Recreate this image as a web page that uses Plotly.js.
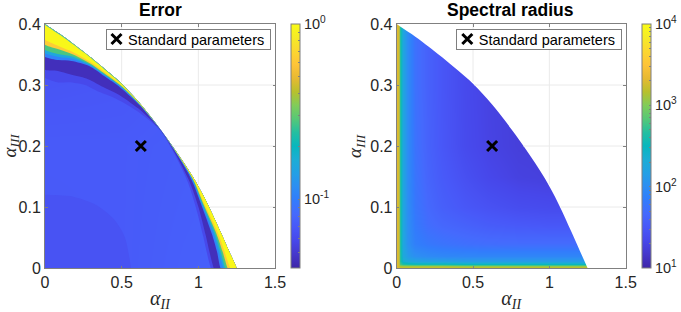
<!DOCTYPE html>
<html><head><meta charset="utf-8">
<script src="https://cdn.plot.ly/plotly-3.0.1.min.js"></script>
<style>html,body{margin:0;padding:0;background:#fff}#c{width:681px;height:312px}</style>
</head><body><div id="c"></div>
<script>
// Stability boundary (first and last points run just off the axes)
const edgeX = [-.1, 0, .1, .1875, .3, .4, .5, .625, .75, .85, .97, 1.06, 1.145, 1.2, 1.25, 1.3];
const edgeY = [.42, .4, .383, .367, .345, .324, .302, .268, .228, .193, .147, .105, .059, .028, 0, -.03];

// Error panel: log10(error) of each band
const bandLog = [-1.23, -1.35, -0.98, -0.81, -0.56, -0.2, -0.02, -0.8];
// Inner edge of each band as a fraction along the ray to the boundary, one value per boundary point
const bandFade   = [.78, .78, .795, .83, .87, .89, .92, .96, .995, .985, .96, .93, .90, .88, .865, .865];
const bandDark   = [.8125, .8125, .843, .865, .90, .92, .945, .975, .997, .99, .97, .945, .915, .895, .88, .88];
const bandBlue   = [.865, .865, .89, .925, .96, .97, .98, .992, .999, .995, .985, .965, .95, .935, .915, .915];
const bandTeal   = [.88, .88, .903, .935, .964, .975, .985, .995, .9993, .997, .99, .97, .96, .945, .93, .93];
const bandGreen  = [.893, .893, .915, .945, .968, .978, .987, .996, .9995, .9975, .992, .974, .968, .955, .94, .94];
const bandOrange = [.915, .915, .935, .955, .973, .982, .99, .997, .9997, .998, .994, .978, .975, .965, .952, .952];
const bandYellow = [.935, .935, .948, .965, .98, .988, .993, .998, .9998, .999, .996, .984, .984, .975, .966, .966];
const bandRim    = [.997, .997, .997, .997, .998, .998, .999, .9995, 1, 1, 1, 1, 1, 1, 1, 1];

// Slightly darker low-error patch near the origin
const patchX = [-.05, 0, .185, .337, .446, .52, .56, .57, -.05];
const patchY = [.12, .12, .117, .103, .081, .051, .002, -.02, -.02];
const patchLog = -1.185;

// Error panel background field
const errX = [0, .5, .9, 1.25];
const errY = [0, .2, .33, .4];
const errZ = [
  [-1.16, -1.15, -1.13, -1.12],
  [-1.15, -1.15, -1.14, -1.13],
  [-1.18, -1.17, -1.15, -1.14],
  [-1.18, -1.17, -1.15, -1.14]
];

// Spectral radius panel: log10(value) on a graded grid
const radX = [0, .01, .02, .04, .07, .12, .2, .3, .45, .6, .8, 1, 1.25];
const radY = [0, .003, .006, .012, .02, .04, .07, .1, .15, .2, .3, .4];
const radZ = [
  [3.3, 3.3, 3.3, 3.3, 3.3, 3.3, 3.3, 3.3, 3.3, 3.3, 3.3, 3.3, 3.3],
  [3.3, 3.25, 3.15, 3.1, 3.1, 3.1, 3.1, 3.1, 3.05, 3.05, 3.05, 3.05, 3.05],
  [3.3, 3.25, 2.8, 2.65, 2.6, 2.55, 2.55, 2.55, 2.5, 2.5, 2.5, 2.5, 2.5],
  [3.3, 3.25, 2.7, 2.38, 2.28, 2.22, 2.18, 2.18, 2.14, 2.14, 2.14, 2.14, 2.14],
  [3.3, 3.25, 2.7, 2.28, 2.12, 2.02, 1.97, 1.94, 1.93, 1.93, 1.93, 1.93, 1.93],
  [3.3, 3.25, 2.7, 2.25, 2.02, 1.87, 1.8, 1.76, 1.72, 1.7, 1.69, 1.69, 1.69],
  [3.3, 3.25, 2.7, 2.25, 2.0, 1.82, 1.7, 1.64, 1.59, 1.54, 1.51, 1.49, 1.49],
  [3.3, 3.25, 2.7, 2.25, 1.99, 1.79, 1.66, 1.57, 1.49, 1.44, 1.39, 1.37, 1.37],
  [3.3, 3.25, 2.7, 2.25, 1.97, 1.77, 1.62, 1.52, 1.42, 1.34, 1.28, 1.26, 1.26],
  [3.3, 3.25, 2.7, 2.25, 1.97, 1.75, 1.6, 1.49, 1.37, 1.3, 1.25, 1.24, 1.24],
  [3.3, 3.25, 2.7, 2.25, 1.97, 1.74, 1.59, 1.48, 1.36, 1.29, 1.25, 1.24, 1.24],
  [3.3, 3.25, 2.7, 2.25, 1.97, 1.74, 1.59, 1.48, 1.36, 1.29, 1.25, 1.24, 1.24]
];

const standardX = [0.625];
const standardY = [0.2];
const legendText = "Standard parameters";
const xTicks = [0, .5, 1, 1.5];
const xTickText = ["0", "0.5", "1", "1.5"];
const yTicks = [0, .1, .2, .3, .4];
const yTickText = ["0", "0.1", "0.2", "0.3", "0.4"];

// Grid seen only outside the feasible region
const gridSegX = [.5, .5, null, 1, 1, null, 1.075, 1.5, null, .83, 1.5, null, .51, 1.5];
const gridSegY = [.305, .4, null, .137, .4, null, .1, .1, null, .2, .2, null, .3, .3];

const parulaRGB = [
  [62,38,168],[69,55,203],[71,71,234],[72,88,248],[69,106,253],[50,124,252],[45,142,243],[35,160,229],
  [28,173,213],[8,183,190],[36,191,160],[86,200,119],[129,204,89],[184,192,45],[231,185,50],[254,196,56],
  [252,215,48],[245,235,39],[249,251,21]
];
const parula = parulaRGB.map((c, i) => [i / (parulaRGB.length - 1), `rgb(${c.join(',')})`]);

const errMin = -1.392, errMax = 0, radMin = 1, radMax = 4;

function colorAt(v, lo, hi) {
  const t = Math.min(1, Math.max(0, (v - lo) / (hi - lo))) * (parulaRGB.length - 1);
  const i = Math.min(parulaRGB.length - 2, Math.floor(t)), f = t - i;
  const a = parulaRGB[i], b = parulaRGB[i + 1];
  return `rgb(${a.map((p, k) => Math.round(p + (b[k] - p) * f)).join(',')})`;
}
function maskTrace(xa, ya) {
  return {x: edgeX.concat([3, 3, -.1]), y: edgeY.concat([-.03, 1, 1]), xaxis: xa, yaxis: ya, type: 'scatter',
    mode: 'lines', fill: 'toself', fillcolor: '#fff', line: {width: 0, shape: 'spline'}, hoverinfo: 'skip', showlegend: false};
}
function gridTrace(xa, ya) {
  return {x: gridSegX, y: gridSegY, xaxis: xa, yaxis: ya, type: 'scatter', mode: 'lines',
    line: {color: '#eaeaea', width: 1}, hoverinfo: 'skip', showlegend: false};
}
function bandTrace(frac, logVal) {
  const ix = edgeX.map((v, i) => v * frac[i]), iy = edgeY.map((v, i) => v * frac[i]);
  return {x: ix.concat(edgeX.slice().reverse()), y: iy.concat(edgeY.slice().reverse()), xaxis: 'x', yaxis: 'y',
    type: 'scatter', mode: 'lines', fill: 'toself', fillcolor: colorAt(logVal, errMin, errMax),
    line: {width: 0, shape: 'spline', smoothing: 0.8}, hoverinfo: 'skip', showlegend: false};
}
function markerTrace(xa, ya, leg) {
  return {x: standardX, y: standardY, xaxis: xa, yaxis: ya, type: 'scatter', mode: 'markers', name: legendText,
    legend: leg, showlegend: true,
    marker: {symbol: 'x-thin', size: 10, color: '#000', line: {color: '#000', width: 3}}};
}
function decadeTicks(first, last, lo, hi) {
  const v = [], t = [];
  for (let d = first; d <= last; d++) for (let m = 1; m <= 9; m++) {
    const lv = d + Math.log10(m);
    if (lv < lo - 1e-9 || lv > hi + 1e-9) continue;
    v.push(lv); t.push(m === 1 ? `10<sup>${d}</sup>` : '');
  }
  return {tickvals: v, ticktext: t};
}
const fontName = '"Liberation Sans", Arial, sans-serif';
function colorbar(px, ticks) {
  return Object.assign({
    x: px / 681, xanchor: 'left', xpad: 0, ypad: 0, y: (312 - 268) / 312, yanchor: 'bottom',
    len: 244 / 312, lenmode: 'fraction', thickness: 9.4, thicknessmode: 'pixels',
    outlinecolor: '#7f7f7f', outlinewidth: 1, borderwidth: 0, ticks: 'inside', ticklen: 2.5, tickcolor: '#7f7f7f', tickwidth: 0.7,
    tickmode: 'array', tickfont: {family: fontName, size: 14.5, color: '#262626'}
  }, ticks);
}

const traces = [
  {type: 'heatmap', x: errX, y: errY, z: errZ, zsmooth: 'best', zmin: errMin, zmax: errMax, colorscale: parula,
   xaxis: 'x', yaxis: 'y', hoverinfo: 'skip', colorbar: colorbar(291.3, decadeTicks(-2, 0, errMin, errMax))},
  {x: patchX, y: patchY, xaxis: 'x', yaxis: 'y', type: 'scatter', mode: 'lines', fill: 'toself',
   fillcolor: colorAt(patchLog, errMin, errMax), line: {width: 0, shape: 'spline', smoothing: 0.8}, hoverinfo: 'skip', showlegend: false},
  maskTrace('x', 'y'), gridTrace('x', 'y'),
  bandTrace(bandFade, bandLog[0]), bandTrace(bandDark, bandLog[1]), bandTrace(bandBlue, bandLog[2]),
  bandTrace(bandTeal, bandLog[3]), bandTrace(bandGreen, bandLog[4]), bandTrace(bandOrange, bandLog[5]),
  bandTrace(bandYellow, bandLog[6]), bandTrace(bandRim, bandLog[7]),
  markerTrace('x', 'y', 'legend'),
  {type: 'heatmap', x: radX, y: radY, z: radZ, zsmooth: 'best', zmin: radMin, zmax: radMax, colorscale: parula,
   xaxis: 'x2', yaxis: 'y2', hoverinfo: 'skip', colorbar: colorbar(641.7, decadeTicks(1, 4, radMin, radMax))},
  maskTrace('x2', 'y2'), gridTrace('x2', 'y2'),
  markerTrace('x2', 'y2', 'legend2')
];

function xAxis(dom, anchor) {
  return {domain: dom, anchor: anchor, range: [0, 1.5], tickmode: 'array', tickvals: xTicks, ticktext: xTickText,
    showgrid: false, zeroline: false, showline: true, mirror: 'ticks', linecolor: '#808080', linewidth: 1,
    ticks: 'inside', ticklen: 2.5, tickcolor: '#808080', tickfont: {family: fontName, size: 16, color: '#262626'},
    title: {text: '<i>α</i><sub><i>II</i></sub>', standoff: 8, font: {family: '"Liberation Serif", serif', size: 20, color: '#262626'}}};
}
function yAxis(anchor) {
  return {domain: [(312 - 268) / 312, (312 - 24) / 312], anchor: anchor, range: [0, .4], tickmode: 'array', tickvals: yTicks,
    ticktext: yTickText, showgrid: false, zeroline: false, showline: true, mirror: 'ticks', linecolor: '#808080', linewidth: 1,
    ticks: 'inside', ticklen: 2.5, tickcolor: '#808080', tickfont: {family: fontName, size: 16, color: '#262626'}};
}
const legendLeft = [105.5, 456.3];
function legendBox(px) {
  return {x: px / 681, y: (312 - 28.5) / 312, xanchor: 'left', yanchor: 'top', bgcolor: '#fff', bordercolor: '#7f7f7f',
    borderwidth: 1, font: {family: fontName, size: 14.5, color: '#000'}, itemsizing: 'trace', itemwidth: 30,
    tracegroupgap: 0};
}
function titleNote(px, text) {
  return {text: '<b>' + text + '</b>', xref: 'paper', yref: 'paper', x: px / 681, y: (312 - 10) / 312, xanchor: 'center',
    yanchor: 'middle', showarrow: false, font: {family: fontName, size: 17.5, color: '#000'}};
}
function yTitleNote(px) {
  return {text: '<i>α</i><sub><i>III</i></sub>', xref: 'paper', yref: 'paper', x: px / 681, y: (312 - 146) / 312, xanchor: 'center',
    yanchor: 'middle', textangle: -90, showarrow: false, font: {family: '"Liberation Serif", serif', size: 19, color: '#262626'}};
}
const layout = {
  width: 681, height: 312, margin: {l: 0, r: 0, t: 0, b: 0}, paper_bgcolor: '#fff', plot_bgcolor: '#fff',
  xaxis: xAxis([45 / 681, 275 / 681], 'y'), yaxis: yAxis('x'),
  xaxis2: xAxis([396.7 / 681, 625.7 / 681], 'y2'), yaxis2: yAxis('x2'),
  legend: legendBox(legendLeft[0]), legend2: legendBox(legendLeft[1]),
  annotations: [titleNote(160, 'Error'), titleNote(510.7, 'Spectral radius'), yTitleNote(10.5), yTitleNote(356)]
};
function compactLegends(gd) {
  gd.querySelectorAll('g.legend, g.legend2').forEach(leg => {
    const w = 164.5, h = 20;
    leg.querySelectorAll('rect.bg, .legendclip rect, .legendtoggle').forEach(r => {
      r.setAttribute('width', w); r.setAttribute('height', h);
    });
    const tr = leg.querySelector('.traces');
    if (tr) tr.setAttribute('transform', 'translate(0,10.5)');
    const pts = leg.querySelector('.legendpoints path');
    if (pts) pts.setAttribute('transform', 'translate(11,0)');
  });
  const host = gd.getBoundingClientRect().left;
  document.querySelectorAll('text').forEach(t => {
    if (t.textContent.trim() !== legendText) return;
    t.setAttribute('transform', '');
    const left = t.getBoundingClientRect().left - host;
    const target = (left > 340 ? legendLeft[1] : legendLeft[0]) + 22.5;
    t.setAttribute('transform', 'translate(' + (target - left) + ',0)');
  });
}
Plotly.newPlot('c', traces, layout, {displayModeBar: false, responsive: false}).then(gd => {
  compactLegends(gd);
  gd.querySelectorAll('svg text').forEach(t => { if (!t.textContent.trim()) t.remove(); });
  [30, 150, 400].forEach(ms => setTimeout(() => compactLegends(gd), ms));
});
</script>
</body></html>
